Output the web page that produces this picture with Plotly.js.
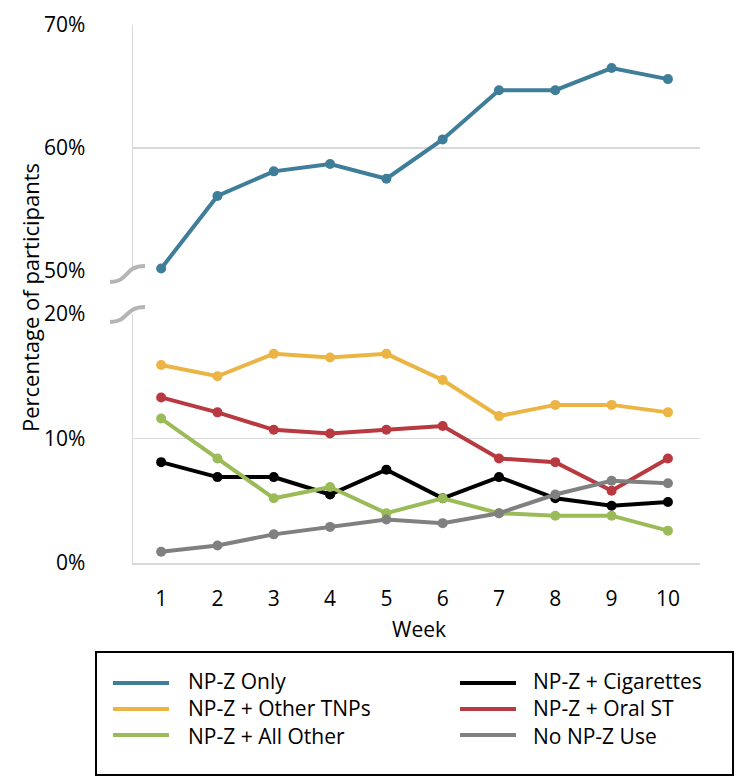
<!DOCTYPE html>
<html>
<head>
<meta charset="utf-8">
<script src="https://cdn.plot.ly/plotly-3.0.1.min.js"></script>
<style>html,body{margin:0;padding:0;background:#fff;}#chart{width:750px;height:781px;}</style>
</head>
<body>
<div id="chart"></div>
<script>
const weeks = [1, 2, 3, 4, 5, 6, 7, 8, 9, 10];
const npzOnly    = [50.2, 56.1, 58.1, 58.7, 57.5, 60.7, 64.7, 64.7, 66.5, 65.6];
const otherTnps  = [15.9, 15.0, 16.8, 16.5, 16.8, 14.7, 11.8, 12.7, 12.7, 12.1];
const oralSt     = [13.3, 12.1, 10.7, 10.4, 10.7, 11.0, 8.4, 8.1, 5.8, 8.4];
const cigarettes = [8.1, 6.9, 6.9, 5.5, 7.5, 5.2, 6.9, 5.2, 4.6, 4.9];
const allOther   = [11.6, 8.4, 5.2, 6.1, 4.0, 5.2, 4.0, 3.8, 3.8, 2.6];
const noNpz      = [0.9, 1.4, 2.3, 2.9, 3.5, 3.2, 4.0, 5.5, 6.6, 6.4];

const seriesNames  = ["NP-Z Only", "NP-Z + Other TNPs", "NP-Z + All Other", "NP-Z + Cigarettes", "NP-Z + Oral ST", "No NP-Z Use"];
const seriesValues = [npzOnly, otherTnps, allOther, cigarettes, oralSt, noNpz];
const seriesColors = ["#3f7e99", "#ebb443", "#9bbb59", "#000000", "#b8393f", "#808080"];
const seriesAxis   = ["y2", "y", "y", "y", "y", "y"];
const drawOrder    = [0, 1, 4, 3, 2, 5];

const topTicks = [50, 60, 70];
const bottomTicks = [0, 10, 20];

const FONT = "Open Sans, DejaVu Sans, sans-serif";

const traces = drawOrder.map(i => ({
  x: weeks,
  y: seriesValues[i],
  name: seriesNames[i],
  yaxis: seriesAxis[i],
  type: "scatter",
  mode: "lines+markers",
  line: {color: seriesColors[i], width: 4},
  marker: {color: seriesColors[i], size: 10},
  cliponaxis: false,
  showlegend: false
}));

// paper coordinate helpers (plot area: x 133..700, y 25..563)
const px = v => (v - 133) / 567;
const py = v => (563 - v) / 538;

const shapes = [];
const annotations = [];

// axis break marks
[[282, 266], [322, 307]].forEach(([ya, yb]) => {
  shapes.push({
    type: "path", xref: "paper", yref: "paper",
    path: `M ${px(110)} ${py(ya)} C ${px(129)} ${py(ya)} ${px(124)} ${py(yb)} ${px(145)} ${py(yb)}`,
    line: {color: "#b5b5b5", width: 4}
  });
});

// legend box
shapes.push({type: "rect", xref: "paper", yref: "paper",
  x0: px(96), x1: px(733), y0: py(775), y1: py(652),
  line: {color: "#000", width: 2}, fillcolor: "rgba(0,0,0,0)"});

const rowsY = [683, 709, 735];
const colLineX = [[113, 169], [460, 516]];
const colTextX = [186, 531];
seriesNames.forEach((name, i) => {
  const col = Math.floor(i / 3), row = i % 3;
  shapes.push({type: "line", xref: "paper", yref: "paper",
    x0: px(colLineX[col][0]), x1: px(colLineX[col][1]),
    y0: py(rowsY[row]), y1: py(rowsY[row]),
    line: {color: seriesColors[i], width: 4}});
});
[0, 1].forEach(col => {
  annotations.push({xref: "paper", yref: "paper", x: px(colTextX[col]), y: py(rowsY[1]),
    xanchor: "left", yanchor: "middle", align: "left", showarrow: false,
    text: seriesNames.slice(col * 3, col * 3 + 3).join("<br>"),
    font: {family: FONT, size: 21, color: "#000"}});
});

// axis titles
annotations.push({xref: "paper", yref: "paper", x: px(30), y: py(298), textangle: -90,
  xanchor: "center", yanchor: "middle", showarrow: false, text: "Percentage of participants",
  font: {family: FONT, size: 22, color: "#000"}});
annotations.push({xref: "paper", yref: "paper", x: px(419), y: py(629),
  xanchor: "center", yanchor: "middle", showarrow: false, text: "Week",
  font: {family: FONT, size: 21, color: "#000"}});

const tickFont = {family: FONT, size: 21, color: "#000"};

const layout = {
  width: 750, height: 781,
  margin: {l: 133, r: 50, t: 25, b: 218},
  paper_bgcolor: "#fff", plot_bgcolor: "#fff",
  showlegend: false,
  xaxis: {
    range: [0.5, 10.57], tickvals: weeks, ticktext: weeks.map(String),
    showgrid: false, zeroline: false, showline: true, linecolor: "#d9d9d9", linewidth: 1.5,
    ticks: "", tickfont: tickFont, ticklabelstandoff: 16, anchor: "y", fixedrange: true
  },
  yaxis: {
    domain: [0, py(314)], range: [0, 20], tickvals: bottomTicks, ticktext: bottomTicks.map(v => v + "%"),
    showgrid: true, gridcolor: "#d9d9d9", gridwidth: 1.5, zeroline: false,
    showline: true, linecolor: "#d9d9d9", linewidth: 1.5,
    ticks: "", tickfont: tickFont, ticklabelstandoff: 42, fixedrange: true
  },
  yaxis2: {
    domain: [py(271), 1], range: [50, 70], tickvals: topTicks, ticktext: topTicks.map(v => v + "%"),
    showgrid: true, gridcolor: "#d9d9d9", gridwidth: 1.5, zeroline: false,
    showline: true, linecolor: "#d9d9d9", linewidth: 1.5, anchor: "x",
    ticks: "", tickfont: tickFont, ticklabelstandoff: 42, fixedrange: true
  },
  shapes: shapes,
  annotations: annotations
};

Plotly.newPlot("chart", traces, layout, {displayModeBar: false, staticPlot: true});
</script>
</body>
</html>
